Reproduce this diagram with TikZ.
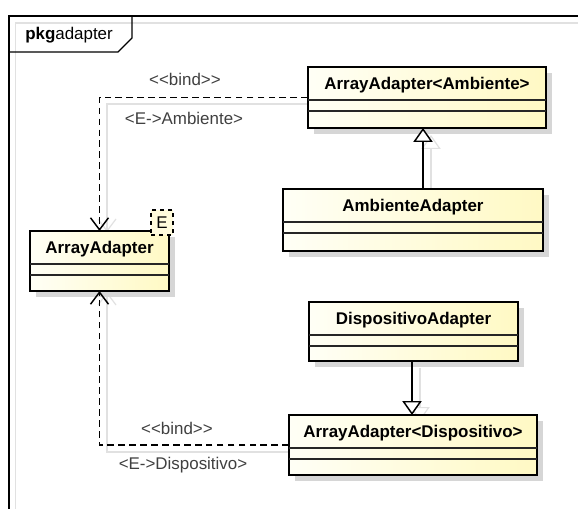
\documentclass[tikz,border=0pt]{standalone}
\usepackage{fontspec}
\setmainfont{Liberation Sans}
\usetikzlibrary{arrows.meta,calc,shadows}
\definecolor{shad}{RGB}{214,214,214}
\definecolor{fillL}{RGB}{255,255,246}
\definecolor{fillR}{RGB}{255,249,196}
\definecolor{labc}{RGB}{64,64,64}
\definecolor{faint}{RGB}{225,225,225}
\begin{document}
\begin{tikzpicture}[x=0.75pt,y=-0.75pt,
  classnode/.style={draw=black, line width=2.2pt, left color=fillL, right color=fillR,
    general shadow={fill=shad, shadow xshift=4.5pt, shadow yshift=-4.5pt},
    inner sep=0pt, outer sep=0pt},
  cline/.style={line width=1.1pt, draw=black!85},
  cname/.style={font=\fontsize{12.7}{15}\selectfont\bfseries, inner sep=0pt},
  lab/.style={font=\fontsize{12.7}{15}\selectfont, text=labc, inner sep=0pt},
  dep/.style={line width=1.1pt, dash pattern=on 5pt off 3.2pt, -{Straight Barb[length=9pt,width=13.5pt,line width=1.1pt]}},
  depshadow/.style={line width=0.9pt, draw=faint, -{Straight Barb[length=9pt,width=13.5pt,line width=0.9pt]}},
  inherit/.style={line width=1.1pt, -{Triangle[open,length=10.5pt,width=14.5pt,fill=white,line width=1.1pt]}},
  inhshadow/.style={line width=0.9pt, draw=faint, -{Triangle[open,length=10.5pt,width=14.5pt,fill=white,line width=0.9pt]}},
  tparam/.style={draw=black, dashed, line width=0.8pt, fill=fillR!60!white, minimum width=16.5pt, minimum height=18.75pt, inner sep=0pt, font=\fontsize{12.7}{15}\selectfont}
]
\useasboundingbox (0,0) rectangle (578,509);
\fill[white] (0,0) rectangle (578,509);
% frame
\draw[faint, line width=0.9pt] (15.5,509) -- (15.5,23) -- (578,23);
\draw[black, line width=1pt] (9,509) -- (9,16) -- (578,16);
\draw[black, line width=1pt] (9,52) -- (118,52) -- (132,38) -- (132,16);
\node[anchor=west, inner sep=0pt, font=\fontsize{12.7}{15}\selectfont] (pkg) at (25,35) {\textbf{pkg}adapter};

% class boxes
\newcommand{\UMLclass}[6]{%
  \node[classnode, minimum width=0.75*#4pt, minimum height=0.75*#5pt] (#1) at (#2,#3) {};
  \draw[cline] ($(#1.north west)+(0,33)$) -- ($(#1.north east)+(0,33)$);
  \draw[cline] ($(#1.north west)+(0,44)$) -- ($(#1.north east)+(0,44)$);
  \node[cname] (#1name) at ($(#1.north)+(0,18)$) {#6};
}

% connector shadows
\draw[depshadow] (330,104) -| (107,232);
\draw[depshadow] (300,452) -| (107,292);
\draw[inhshadow] (431,196) -- (431,135);
\draw[inhshadow] (420,368) -- (420,421);

\UMLclass{aaamb}{427}{97.5}{238}{61}{ArrayAdapter<Ambiente>}
\UMLclass{ambad}{413}{220}{260}{62}{AmbienteAdapter}
\UMLclass{aa}{99.5}{261}{139}{60}{ArrayAdapter}
\UMLclass{dispad}{413.5}{331.5}{209}{59}{DispositivoAdapter}
\UMLclass{aadisp}{413}{445}{248}{60}{ArrayAdapter<Dispositivo>}

\node[tparam] (tpE) at (162,222.5) {E};

% connectors
\draw[dep] (aaamb.west) -| (aa.north);
\draw[dep] (aadisp.west) -| (aa.south);
\draw[inherit] (ambad.north -| 423,0) -- (aaamb.south -| 423,0);
\draw[inherit] (dispad.south -| 412,0) -- (aadisp.north -| 412,0);

% labels
\node[lab] (b1) at (185,79) {<{}<bind>{}>};
\node[lab] (e1) at (184,118) {<E->Ambiente>};
\node[lab] (b2) at (177,428) {<{}<bind>{}>};
\node[lab] (e2) at (183,465) {<E->Dispositivo>};
\end{tikzpicture}
\end{document}
